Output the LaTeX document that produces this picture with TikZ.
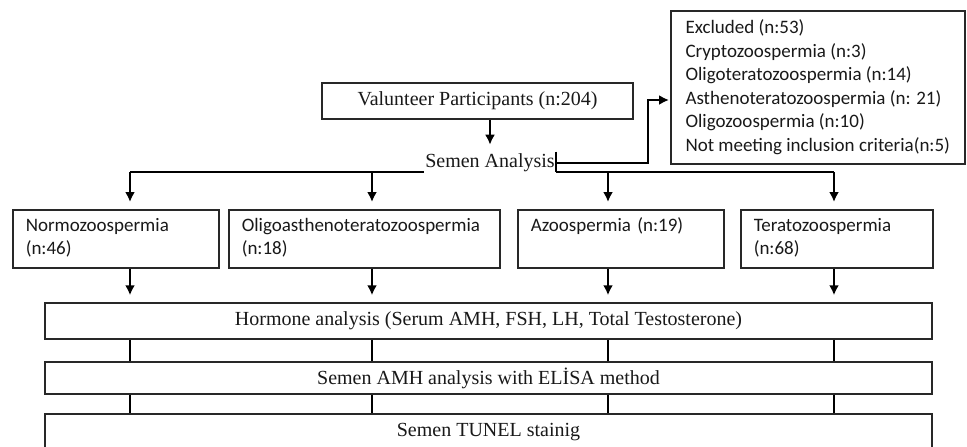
\documentclass[tikz,border=0pt]{standalone}
\usepackage{fontspec}
\setmainfont{Liberation Serif}
\newfontfamily\calibri{Carlito}
\usepackage{tikz}
\usetikzlibrary{arrows.meta,positioning,calc}
\usepackage{xcolor}
\definecolor{linegray}{RGB}{40, 40, 40}

\begin{document}
\begin{tikzpicture}[x=1pt,y=-1pt,
    box/.style={draw=linegray,line width=1.5pt,inner sep=0pt,text=black!90,font=\fontsize{20}{24}\selectfont},
    grp/.style={draw=linegray,line width=1.5pt,anchor=north west,align=left,inner xsep=13pt,inner ysep=5pt,
        minimum height=58pt,text=black!90,font=\calibri\fontsize{19}{23}\selectfont},
    conn/.style={line width=2.3pt,black},
    arr/.style={conn,-{Latex[length=10pt,width=10pt]},shorten >=7pt}]
    \useasboundingbox (0,0) rectangle (967,447);
    \clip (0,0) rectangle (967,447);
    \fill[white] (0,0) rectangle (967,447);

    % Columns
    \coordinate (bus) at (0,172);
    \coordinate (c1) at (130,0);
    \coordinate (c2) at (372,0);
    \coordinate (c3) at (608,0);
    \coordinate (c4) at (834,0);
    \coordinate (elb) at (648,100);

    % Top
    \node[box,minimum width=311pt,minimum height=36pt] (vol) at (477.5,101) {Valunteer Participants (n:204)};
    \node[text=black!90,font=\fontsize{20}{24}\selectfont,inner xsep=1pt,inner ysep=2pt] (sa) at (490,163) {Semen Analysis};
    \node[grp,inner xsep=14pt,inner ysep=5pt,minimum width=294pt,minimum height=153pt,
        font=\calibri\fontsize{19}{23.6}\selectfont] (exc) at (670,10)
        {Excluded (n:53)\\Cryptozoospermia (n:3)\\Oligoteratozoospermia (n:14)\\Asthenoteratozoospermia (n: 21)\\Oligozoospermia (n:10)\\Not meeting inclusion criteria(n:5)};

    % Groups
    \node[grp,text width=180pt] (nor) at (12,209) {\strut Normozoospermia\\\strut(n:46)};
    \node[grp,text width=245pt] (oli) at (228,209) {\strut Oligoasthenoteratozoospermia\\\strut(n:18)};
    \node[grp,text width=180pt] (azo) at (517,209) {\strut Azoospermia (n:19)\\\strut};
    \node[grp,text width=166pt] (ter) at (740,209) {\strut Teratozoospermia\\\strut(n:68)};

    % Analyses
    \node[box,minimum width=887pt,minimum height=36pt] (hor) at (488.5,321) {Hormone analysis (Serum AMH, FSH, LH, Total Testosterone)};
    \node[box,minimum width=887pt,minimum height=32pt] (ami) at (488.5,378) {Semen AMH analysis with ELİSA method};
    \node[box,minimum width=887pt,minimum height=36pt] (tun) at (488.5,432) {Semen TUNEL stainig};

    % Connectors
    \draw[arr] (vol.south -| sa.north) -- (sa.north);
    \draw[conn] (c1 |- bus) -- (sa.west |- bus);
    \draw[conn] (sa.east |- bus) -- (c4 |- bus);
    \draw[conn] (sa.north east) -- (sa.east |- bus);
    \draw[arr,shorten >=1pt] (sa.east) -| (elb) -- (exc.west |- elb);
    \foreach \cx/\gb in {c1/nor,c2/oli,c3/azo,c4/ter} {
        \draw[arr] (\cx |- bus) -- (\cx |- \gb.north);
        \draw[arr] (\cx |- \gb.south) -- (\cx |- hor.north);
        \draw[conn] (\cx |- hor.south) -- (\cx |- ami.north);
        \draw[conn] (\cx |- ami.south) -- (\cx |- tun.north);
    }
\end{tikzpicture}
\end{document}
